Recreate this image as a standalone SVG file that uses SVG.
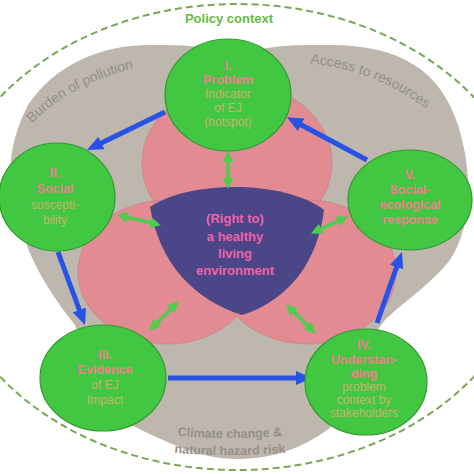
<svg xmlns="http://www.w3.org/2000/svg" width="474" height="474" viewBox="0 0 474 474">
<style>
.node{fill:#42c742;stroke:#2e9a2e;stroke-width:1.2}
.pk{font-family:"Liberation Sans",Arial,sans-serif;font-weight:bold;font-size:12.5px;fill:#ec7f8c;text-anchor:middle}
.ol{font-family:"Liberation Sans",Arial,sans-serif;font-size:12px;fill:#c9b36b;text-anchor:middle}
.ctr{font-family:"Liberation Sans",Arial,sans-serif;font-weight:bold;font-size:13px;fill:#f063aa;text-anchor:middle}
.gl{font-family:"Liberation Sans",Arial,sans-serif;font-size:14px;fill:#958f88}
.gb{font-family:"Liberation Sans",Arial,sans-serif;font-size:12.5px;font-weight:bold;fill:#958f88;text-anchor:middle}
.blue{stroke:#2653e6;stroke-width:5;fill:none;marker-end:url(#bh)}
.grn{stroke:#4ccd4c;stroke-width:3.5;fill:none;marker-start:url(#gh);marker-end:url(#gh)}
.pinkfill{fill:#e38b93}
.pinkline{fill:none;stroke:#c0707a;stroke-width:0.8;opacity:0.6}
</style>
<defs>
<marker id="bh" markerUnits="userSpaceOnUse" markerWidth="16" markerHeight="16" viewBox="0 0 16 16" refX="8" refY="8" orient="auto"><path d="M0,1 L16,8 L0,15 Z" fill="#2653e6"/></marker>
<marker id="gh" markerUnits="userSpaceOnUse" markerWidth="11" markerHeight="11" viewBox="0 0 11 11" refX="5" refY="5.5" orient="auto-start-reverse"><path d="M0,0 L11,5.5 L0,11 Z" fill="#4ccd4c"/></marker>
<path id="arcL" d="M 12.5,146 A 205 168 0 0 1 190,62"/>
<path id="arcR" d="M 284,62 A 205 168 0 0 1 461.5,146"/>
<path id="arcB1" d="M 160,434 Q 228,442 300,434"/>
<path id="arcB2" d="M 155,451 Q 228,459 305,451"/>
</defs>

<g id="background">
<ellipse cx="237" cy="237" rx="296" ry="233" fill="none" stroke="#7aa755" stroke-width="2" stroke-dasharray="7 4"/>
<text x="229" y="23" font-family="Liberation Sans, Arial, sans-serif" font-weight="bold" font-size="13" fill="#66bb44" text-anchor="middle">Policy context</text>
<path d="M 237,58 C 260,44 300,45 330,45 C 400,45 440,70 458,125 C 475,180 470,230 450,260 C 430,285 400,305 385,320 L 370,340 L 330,428 C 300,450 270,459 237,459 C 205,459 175,447 125,422 L 90,360 L 75,325 C 55,300 35,270 25,240 C 5,190 5,150 28,105 C 55,65 100,45 150,45 C 190,45 215,46 237,58 Z" fill="#bdb7ad"/>
<text class="gl"><textPath href="#arcL" startOffset="30">Burden of pollution</textPath></text>
<text class="gl"><textPath href="#arcR" startOffset="26">Access to resources</textPath></text>
<text class="gb"><textPath href="#arcB1" startOffset="50%">Climate change &amp;</textPath></text>
<text class="gb"><textPath href="#arcB2" startOffset="50%">natural hazard risk</textPath></text>
</g>

<g id="venn">
<ellipse class="pinkfill" cx="237" cy="163" rx="95" ry="80"/>
<ellipse class="pinkfill" cx="167" cy="272" rx="89" ry="72"/>
<ellipse class="pinkfill" cx="307" cy="272" rx="89" ry="72"/>
<ellipse class="pinkline" cx="237" cy="163" rx="95" ry="80"/>
<ellipse class="pinkline" cx="167" cy="272" rx="89" ry="72"/>
<ellipse class="pinkline" cx="307" cy="272" rx="89" ry="72"/>
</g>

<g id="center">
<path d="M 150,207 C 190,180 285,180 324,210 C 318,260 290,300 242,315 C 195,300 160,265 150,207 Z" fill="#4b4687"/>
<text class="ctr" x="235" y="223">(Right to)</text>
<text class="ctr" x="235" y="241">a healthy</text>
<text class="ctr" x="235" y="258">living</text>
<text class="ctr" x="235" y="275">environment</text>
</g>

<g id="connectors">
<line class="blue" x1="367" y1="160" x2="294" y2="121"/>
<line class="blue" x1="165" y1="112" x2="94.2" y2="146.5"/>
<line class="blue" x1="58" y1="252" x2="82.2" y2="317.5"/>
<line class="blue" x1="168" y1="378" x2="304" y2="378"/>
<line class="blue" x1="377" y1="323" x2="399.3" y2="259.5"/>
<line class="grn" x1="228" y1="157" x2="228" y2="183"/>
<line class="grn" x1="122.9" y1="216.2" x2="155.1" y2="223.8"/>
<line class="grn" x1="316.5" y1="230.9" x2="342.5" y2="219.1"/>
<line class="grn" x1="174.5" y1="305.5" x2="153.5" y2="326.5"/>
<line class="grn" x1="290.5" y1="308.5" x2="311.5" y2="329.5"/>
</g>

<g id="node1">
<ellipse class="node" cx="228" cy="95" rx="63" ry="56"/>
<text class="pk" x="228" y="70">I.</text>
<text class="pk" x="228" y="84">Problem</text>
<text class="ol" x="228" y="98">Indicator</text>
<text class="ol" x="228" y="112">of EJ</text>
<text class="ol" x="228" y="126">(hotspot)</text>
</g>

<g id="node2">
<ellipse class="node" cx="57" cy="197" rx="58" ry="54"/>
<text class="pk" x="55" y="177">II.</text>
<text class="pk" x="55" y="193">Social</text>
<text class="ol" x="55" y="209">suscepti-</text>
<text class="ol" x="55" y="224">bility</text>
</g>

<g id="node3">
<ellipse class="node" cx="103" cy="378" rx="63" ry="53"/>
<text class="pk" x="105" y="359">III.</text>
<text class="pk" x="105" y="374">Evidence</text>
<text class="ol" x="105" y="389">of EJ</text>
<text class="ol" x="105" y="404">Impact</text>
</g>

<g id="node4">
<ellipse class="node" cx="366" cy="382" rx="61" ry="53"/>
<text class="pk" x="364" y="349">IV.</text>
<text class="pk" x="364" y="364">Understan-</text>
<text class="pk" x="364" y="378">ding</text>
<text class="ol" x="364" y="391">problem</text>
<text class="ol" x="364" y="404">context by</text>
<text class="ol" x="364" y="417">stakeholders</text>
</g>

<g id="node5">
<ellipse class="node" cx="410" cy="200" rx="62" ry="50"/>
<text class="pk" x="410" y="179">V.</text>
<text class="pk" x="410" y="194">Social-</text>
<text class="pk" x="410" y="209">ecological</text>
<text class="pk" x="410" y="224">response</text>
</g>
</svg>
